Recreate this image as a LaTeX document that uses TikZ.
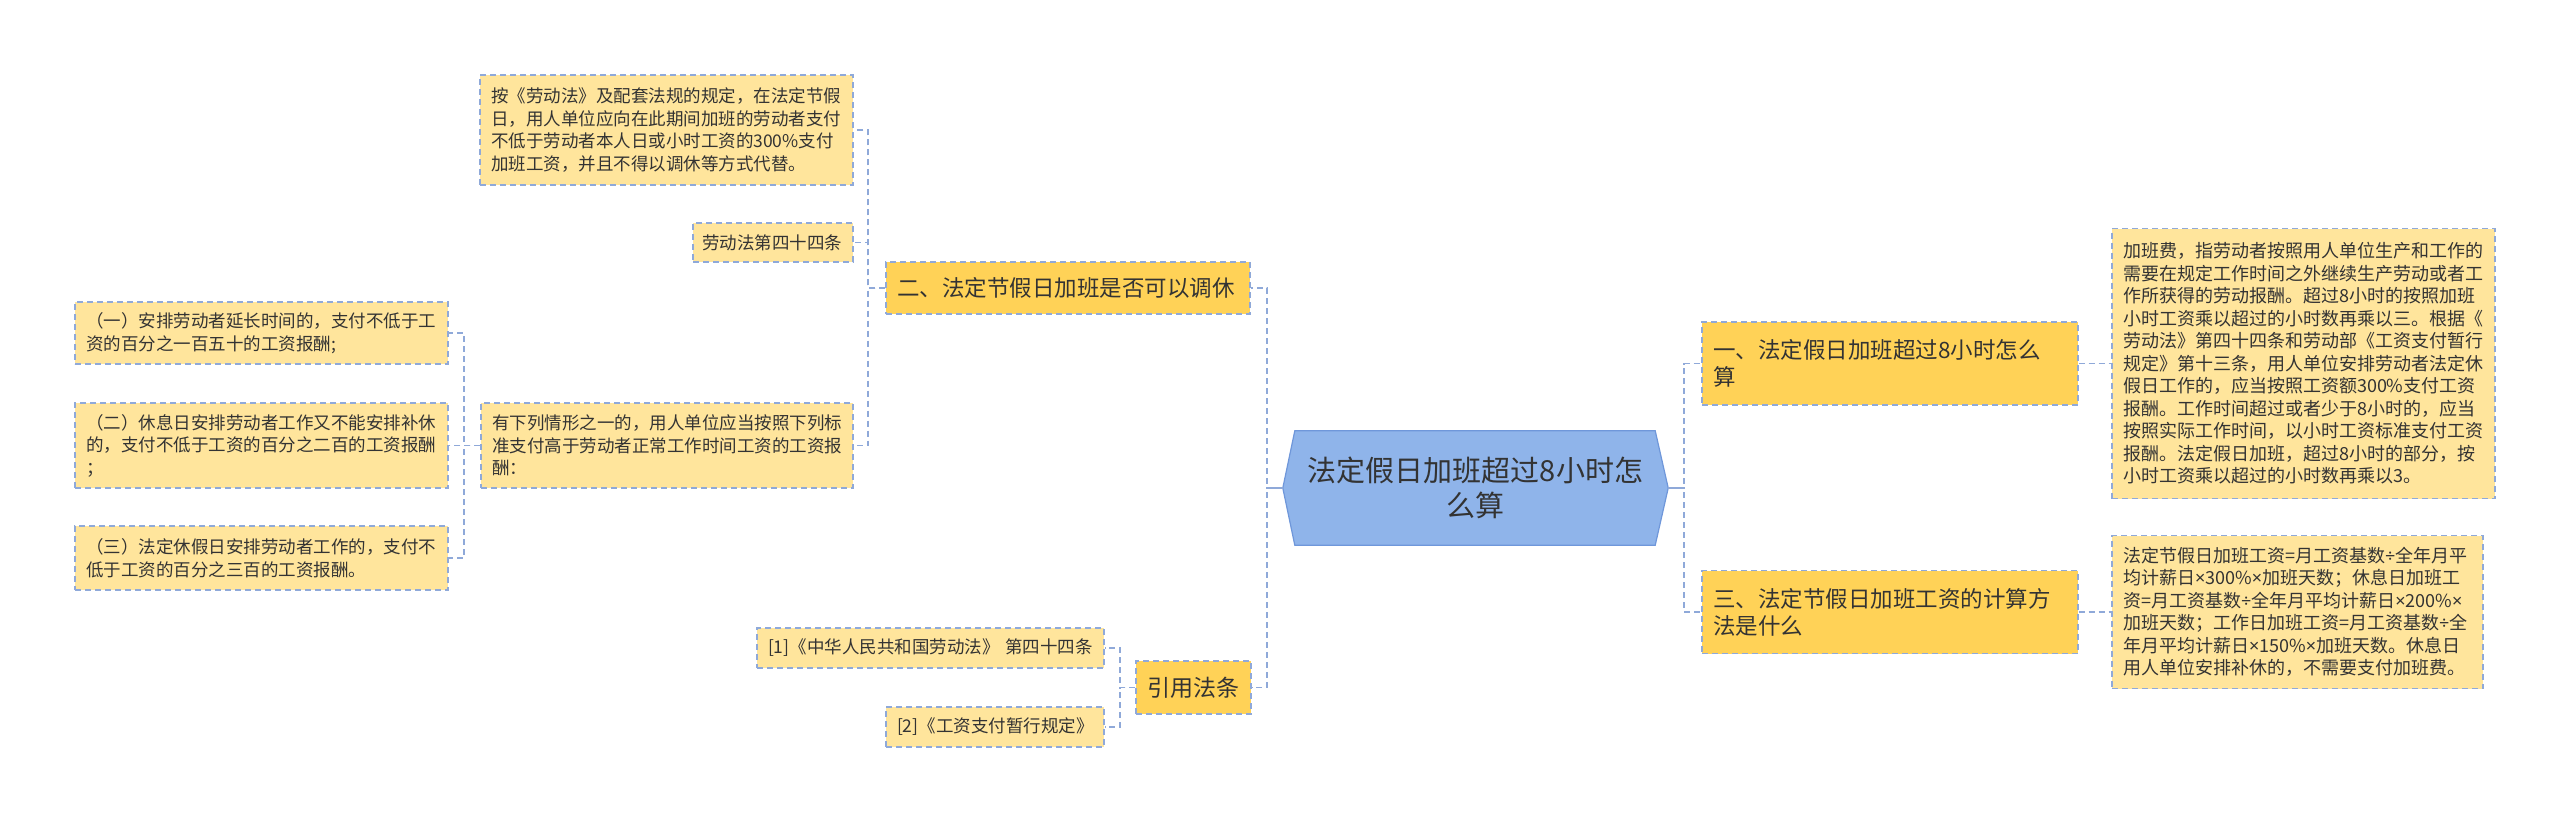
\documentclass[tikz,border=0pt]{standalone}
\usepackage{fontspec}
\setmainfont{Noto Sans CJK SC}
\newfontfamily\latinf{Noto Sans}
\newcommand{\mymul}{{\latinf ×}}
\newcommand{\mydiv}{{\latinf ÷}}
\usetikzlibrary{backgrounds}
\definecolor{leaffill}{HTML}{FFE59C}
\definecolor{lonefill}{HTML}{FFD257}
\definecolor{rootfill}{HTML}{8FB4EA}
\definecolor{rootedge}{HTML}{6F97DA}
\definecolor{dashcol}{HTML}{8FA9D9}
\definecolor{txt}{HTML}{333333}
\begin{document}
\begin{tikzpicture}[x=1pt,y=-1pt,
  boxbase/.style={draw=dashcol, line width=1.3pt, dash pattern=on 6pt off 4pt, text=txt, align=left, inner ysep=0pt, anchor=center},
  leaf/.style={boxbase, fill=leaffill, inner xsep=11pt, font=\fontsize{17.5pt}{22.5pt}\selectfont},
  rleaf/.style={boxbase, fill=leaffill, inner xsep=11pt, font=\fontsize{18pt}{22.5pt}\selectfont},
  lone/.style={boxbase, fill=lonefill, inner xsep=11pt, font=\fontsize{22.5pt}{27pt}\selectfont},
  conn/.style={draw=dashcol, line width=1.5pt, dash pattern=on 6pt off 4pt},
  rootstub/.style={draw=dashcol, line width=1.5pt},
]
\useasboundingbox (0,0) rectangle (2560,823);

% root
\node[text=txt, align=center, text width=350pt, minimum width=385pt, minimum height=114pt, inner sep=0pt,
      font=\fontsize{29pt}{35pt}\selectfont] (root) at (1475.5,488) {法定假日加班超过8小时怎\\么算};
\begin{scope}[on background layer]
\fill[white] (0,0) rectangle (2560,823);
\draw[fill=rootfill, draw=rootedge, line width=1.2pt]
  (root.west) -- ([xshift=12pt]root.north west) -- ([xshift=-13pt]root.north east) -- (root.east)
  -- ([xshift=-13pt]root.south east) -- ([xshift=12pt]root.south west) -- cycle;
\end{scope}

% level 1
\node[lone, text width=342pt, minimum height=52pt] (n2) at (1068,288) {二、法定节假日加班是否可以调休};
\node[lone, align=center, inner xsep=8pt, text width=99pt, minimum height=53pt, font=\fontsize{23pt}{27pt}\selectfont] (n4) at (1193.5,687.5) {引用法条};
\node[lone, text width=354pt, minimum height=83pt] (n1) at (1890,363.5) {一、法定假日加班超过8小时怎么\\算};
\node[lone, text width=354pt, minimum height=83pt] (n3) at (1890,612) {三、法定节假日加班工资的计算方\\法是什么};

% left leaves
\node[leaf, text width=351pt, minimum height=110pt] (p1) at (666.5,130) {按《劳动法》及配套法规的规定，在法定节假\\日，用人单位应向在此期间加班的劳动者支付\\不低于劳动者本人日或小时工资的300\%支付\\加班工资，并且不得以调休等方式代替。};
\node[leaf, inner xsep=9pt, text width=142pt, minimum height=39pt] (p2) at (773,242.5) {劳动法第四十四条};
\node[leaf, text width=350pt, minimum height=85pt] (p3) at (667,445.5) {有下列情形之一的，用人单位应当按照下列标\\准支付高于劳动者正常工作时间工资的工资报\\酬：};
\node[leaf, text width=351pt, minimum height=62pt] (q1) at (261.5,333) {（一）安排劳动者延长时间的，支付不低于工\\资的百分之一百五十的工资报酬;};
\node[leaf, text width=351pt, minimum height=85pt] (q2) at (261.5,445.5) {（二）休息日安排劳动者工作又不能安排补休\\的，支付不低于工资的百分之二百的工资报酬\\；};
\node[leaf, text width=351pt, minimum height=64pt] (q3) at (261.5,558) {（三）法定休假日安排劳动者工作的，支付不\\低于工资的百分之三百的工资报酬。};
\node[leaf, text width=325pt, minimum height=40pt] (r1) at (930.5,648) {[1]《中华人民共和国劳动法》 第四十四条};
\node[leaf, text width=196pt, minimum height=40pt] (r2) at (995,727) {[2]《工资支付暂行规定》};

% right leaves
\node[rleaf, text width=361pt, minimum height=270pt] (a1) at (2303.5,363.5) {加班费，指劳动者按照用人单位生产和工作的\\需要在规定工作时间之外继续生产劳动或者工\\作所获得的劳动报酬。超过8小时的按照加班\\小时工资乘以超过的小时数再乘以三。根据《\\劳动法》第四十四条和劳动部《工资支付暂行\\规定》第十三条，用人单位安排劳动者法定休\\假日工作的，应当按照工资额300\%支付工资\\报酬。工作时间超过或者少于8小时的，应当\\按照实际工作时间，以小时工资标准支付工资\\报酬。法定假日加班，超过8小时的部分，按\\小时工资乘以超过的小时数再乘以3。};
\node[rleaf, text width=349pt, minimum height=153pt] (b1) at (2297.5,612) {法定节假日加班工资=月工资基数\mydiv 全年月平\\均计薪日\mymul 300\%\mymul 加班天数；休息日加班工\\资=月工资基数\mydiv 全年月平均计薪日\mymul 200\%\mymul\\加班天数；工作日加班工资=月工资基数\mydiv 全\\年月平均计薪日\mymul 150\%\mymul 加班天数。休息日\\用人单位安排补休的，不需要支付加班费。};

% vertical guide positions
\coordinate (vA) at (464,0);
\coordinate (vB) at (868,0);
\coordinate (vC) at (1120,0);
\coordinate (vL) at (1267,0);
\coordinate (vR) at (1684,0);

% connectors
\draw[conn] (root.west) -- (vL |- root.west) |- (n2.east);
\draw[conn] (root.west) -- (vL |- root.west) |- (n4.east);
\draw[conn] (root.east) -- (vR |- root.east) |- (n1.west);
\draw[conn] (root.east) -- (vR |- root.east) |- (n3.west);
\draw[rootstub] (root.west) -- (vL |- root.west);
\draw[rootstub] (root.east) -- (vR |- root.east);

\draw[conn] (n2.west) -- (vB |- n2.west) |- (p1.east);
\draw[conn] (n2.west) -- (vB |- n2.west) |- (p2.east);
\draw[conn] (n2.west) -- (vB |- n2.west) |- (p3.east);

\draw[conn] (p3.west) -- (vA |- p3.west) |- (q1.east);
\draw[conn] (p3.west) -- (vA |- p3.west) |- (q2.east);
\draw[conn] (p3.west) -- (vA |- p3.west) |- (q3.east);

\draw[conn] (n4.west) -- (vC |- n4.west) |- (r1.east);
\draw[conn] (n4.west) -- (vC |- n4.west) |- (r2.east);

\draw[conn] (n1.east) -- (a1.west);
\draw[conn] (n3.east) -- (b1.west);
\end{tikzpicture}
\end{document}
